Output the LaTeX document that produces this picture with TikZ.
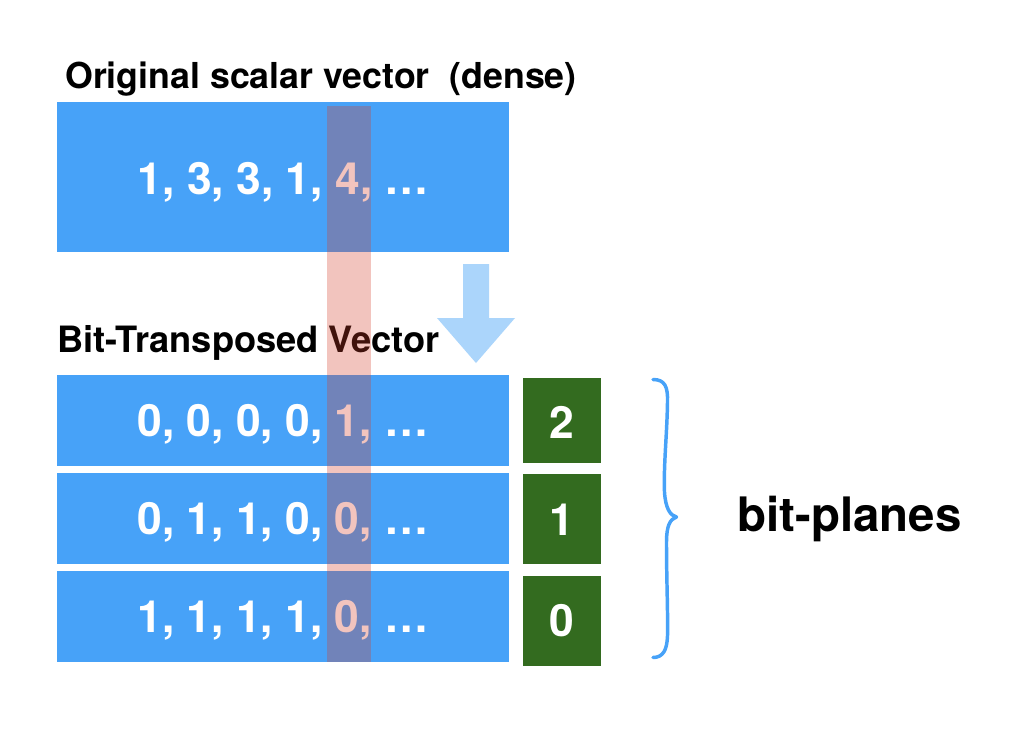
\documentclass[tikz,border=0pt]{standalone}
\usepackage{fontspec}
\setmainfont{TeX Gyre Heros}
\definecolor{boxblue}{RGB}{71,162,248}
\definecolor{planegreen}{RGB}{51,107,31}
\definecolor{arrowblue}{RGB}{171,213,251}
\definecolor{colred}{RGB}{212,61,41}
\begin{document}
\begin{tikzpicture}[x=0.75pt,y=-0.75pt,
  bluebox/.style={fill=boxblue, draw=none, inner sep=0pt, minimum width=339pt},
  greenbox/.style={fill=planegreen, draw=none, inner sep=0pt, minimum width=58.5pt},
  numtext/.style={text=white, font=\fontsize{33.3}{40}\selectfont\bfseries, anchor=base, inner sep=0pt},
  titletext/.style={font=\fontsize{26.8}{32}\selectfont\bfseries, anchor=base west, inner sep=0pt},
  bigtext/.style={font=\fontsize{35.6}{42}\selectfont\bfseries, anchor=base west, inner sep=0pt},
  bracestyle/.style={draw=boxblue, line width=2.6pt, line cap=round, line join=round},
  highlight/.style={fill=colred, opacity=0.3}
]
\useasboundingbox[fill=white] (0,0) rectangle (1036,754);

% titles
\node[titletext] (t1) at (65,88) {Original scalar vector\ \ (dense)};
\node[titletext, font=\fontsize{27.2}{32}\selectfont\bfseries] (t2) at (57,352) {Bit-Transposed Vector};

% dense vector
\node[bluebox, minimum height=112.5pt] (dense) at (283,176.7) {};
\node[numtext] (densetxt) at (283.5,194) {1, 3, 3, 1, 4, …};

% bit-plane rows
\node[bluebox, minimum height=68.25pt] (row2) at (283,420.5) {};
\node[bluebox, minimum height=68.25pt] (row1) at (283,518.5) {};
\node[bluebox, minimum height=68.25pt] (row0) at (283,616.5) {};
\node[numtext] (row2txt) at (283,436) {0, 0, 0, 0, 1, …};
\node[numtext] (row1txt) at (283,534) {0, 1, 1, 0, 0, …};
\node[numtext] (row0txt) at (283,632) {1, 1, 1, 1, 0, …};

% plane indices
\node[greenbox, minimum height=63.5pt] (g2) at (562,420.3) {};
\node[greenbox, minimum height=67.3pt] (g1) at (562,518.9) {};
\node[greenbox, minimum height=67.3pt] (g0) at (562,620.9) {};
\node[numtext] (g2txt) at (562,438) {2};
\node[numtext] (g1txt) at (562,535.5) {1};
\node[numtext] (g0txt) at (562,636.5) {0};

% down arrow
\fill[arrowblue] (463,264) -- (489,264) -- (489,318) -- (515,318) -- (476,363)
  -- (437,318) -- (463,318) -- cycle;

% brace
\draw[bracestyle] (653,379.5) .. controls (665,379.5) and (668,387) .. (667.5,402)
  .. controls (667,435) and (663.5,465) .. (664.5,492)
  .. controls (665.5,508) and (670,515.5) .. (676.5,517)
  .. controls (670,519) and (666.5,526) .. (666.5,542)
  .. controls (666.5,580) and (668,612) .. (667.5,636)
  .. controls (667,650) and (663,657.5) .. (653,657.5);

\node[bigtext] (bp) at (737,531) {bit-planes};

% highlighted column
\fill[highlight] (327,106) rectangle (371,662);
\end{tikzpicture}
\end{document}
